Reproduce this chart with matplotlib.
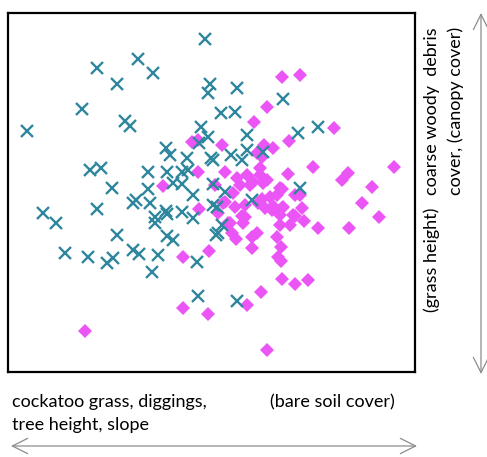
import matplotlib
matplotlib.use('Agg')
import matplotlib.pyplot as plt
from matplotlib.patches import FancyArrowPatch

# ordination scores, axis 1 / axis 2
grp1_x = [-0.05, -1.13, -0.72, -0.57, -0.93, -1.28, -0.85, -0.80, -1.83, -0.09,
          -0.44, -0.40, -0.23, -1.20, -1.09, -0.62, -0.43, -0.28, -0.98, -0.62,
          -0.37, -0.28, 0.00, -0.02, 0.27, 0.73, 0.11, 0.25, -0.02, 0.37,
          0.88, 1.08, -0.11, 0.01, 0.03, 0.21, 0.32, 0.37, 0.53, 0.90,
          -0.22, -0.17, -0.77, -0.74, -0.60, -0.55, -0.55, -0.44, -0.43, -0.28,
          -0.17, -0.43, -0.37, -0.93, -1.67, -1.54, -1.13, -1.45, -1.22, -1.03,
          -0.97, -0.77, -0.71, -0.52, -0.58, -0.13, -0.12, 0.27, 0.07, 0.06,
          0.08, 0.03, 0.42, 0.15, 0.03, 0.12]
grp1_y = [1.51, 1.22, 1.31, 1.17, 1.06, 0.81, 0.69, 0.64, 0.59, 0.63,
          0.42, 0.35, 0.32, 0.20, 0.22, 0.18, 0.18, 0.18, 0.02, 0.01,
          0.07, 0.06, 1.06, 0.97, 1.02, 0.91, 0.77, 0.78, 0.53, 0.55,
          0.57, 0.63, 0.47, 0.32, 0.30, 0.35, 0.30, 0.40, 0.38, 0.02,
          0.20, -0.05, -0.13, -0.10, -0.13, -0.27, -0.33, -0.21, -0.24, -0.22,
          -0.28, -0.46, -0.50, -0.45, -0.23, -0.33, -0.19, -0.63, -0.67, -0.73,
          -0.68, -0.60, -0.64, -0.65, -0.82, -0.72, -1.06, -1.11, -0.17, -0.45,
          -0.43, -0.15, -0.10, -0.02, 0.06, -0.35]

grp2_x = [0.72, 0.90, 0.57, 0.44, 1.24, 0.79, 0.63, 0.54, 0.47, 0.52,
          0.12, -0.18, -0.12, -0.12, 0.15, 1.03, 0.78, 1.38, 1.32, 1.84,
          1.62, 1.52, 1.69, 1.39, 1.08, 0.94, 0.92, 0.85, 0.80, 0.90,
          0.72, 0.72, 0.70, 0.70, 0.67, 0.71, 0.68, 0.71, 0.72, 0.85,
          0.98, 0.51, 0.37, -0.02, -0.27, 0.57, -0.27, -0.01, 0.42, 0.47,
          0.42, 0.26, 0.22, 0.18, 0.33, 0.32, 0.08, -0.11, 0.13, 0.25,
          0.35, 0.23, 0.30, 0.40, 0.52, 0.60, 0.63, 0.53, 0.05, -0.47,
          0.27, 0.37, 0.50, 0.50, 0.43, 0.57, 0.70, -1.25, 0.85, 0.73,
          0.83, 0.62, 0.48, 0.55, 0.35, 0.20, 0.15, 0.67]
grp2_y = [1.13, 1.15, 0.83, 0.68, 0.62, 0.49, 0.42, 0.45, 0.37, 0.33,
          0.45, 0.48, 0.50, 0.18, 0.18, 0.23, 0.16, 0.17, 0.10, 0.23,
          0.03, -0.13, -0.27, -0.38, -0.38, -0.31, -0.18, -0.26, -0.35, -0.05,
          0.01, -0.18, -0.25, -0.35, -0.47, -0.57, -0.67, -0.71, -0.89, -0.94,
          -0.90, -1.02, -1.15, -1.24, -1.18, -1.60, -0.67, -0.61, -0.58, -0.43,
          -0.47, -0.49, -0.43, -0.33, -0.33, -0.26, -0.23, -0.19, -0.13, -0.17,
          -0.15, -0.03, 0.05, 0.05, -0.09, -0.07, -0.16, 0.07, 0.05, 0.04,
          0.12, 0.15, 0.22, 0.15, 0.08, 0.10, 0.02, -1.41, -0.05, -0.17,
          -0.25, -0.20, -0.13, -0.18, -0.27, -0.33, -0.12, -0.05]

plt.rcParams['font.family'] = ['Lato', 'DejaVu Sans']

W, H = 487, 457
fig = plt.figure(figsize=(W / 100, H / 100), dpi=100)
ax = fig.add_axes([8 / W, 1 - 372 / H, 407 / W, 359 / H])

ax.plot(grp2_x, grp2_y, ls='none', marker='D', ms=7, color='#EC55F5', mew=0)
ax.plot(grp1_x, grp1_y, ls='none', marker='x', ms=8, mew=1.7, color='#2E879C')

ax.set_xlim(-2.02, 2.05)
ax.set_ylim(-1.82, 1.77)
ax.set_xticks([])
ax.set_yticks([])
for sp in ax.spines.values():
    sp.set_linewidth(1.6)

fs = 13
# axis 2 labels (right)
fig.text(432 / W, 1 - 111 / H, 'coarse woody  debris', rotation=90,
         ha='center', va='center', fontsize=fs)
fig.text(456 / W, 1 - 111 / H, 'cover, (canopy cover)', rotation=90,
         ha='center', va='center', fontsize=fs)
fig.text(432 / W, 1 - 260 / H, '(grass height)', rotation=90,
         ha='center', va='center', fontsize=fs)

# axis 1 labels (bottom)
fig.text(12 / W, 1 - 402 / H, 'cockatoo grass, diggings,', ha='left', va='center', fontsize=fs)
fig.text(12 / W, 1 - 425 / H, 'tree height, slope', ha='left', va='center', fontsize=fs)
fig.text(270 / W, 1 - 402 / H, '(bare soil cover)', ha='left', va='center', fontsize=fs)

arrow = dict(arrowstyle='<->,head_length=1.1,head_width=0.55', color='#8C8C8C', lw=0.9,
             shrinkA=0, shrinkB=0, mutation_scale=10, transform=fig.transFigure)
fig.add_artist(FancyArrowPatch((11 / W, 1 - 446 / H), (417 / W, 1 - 446 / H), **arrow))
fig.add_artist(FancyArrowPatch((481 / W, 1 - 13 / H), (481 / W, 1 - 374 / H), **arrow))

fig.savefig('out.png', dpi=100)
